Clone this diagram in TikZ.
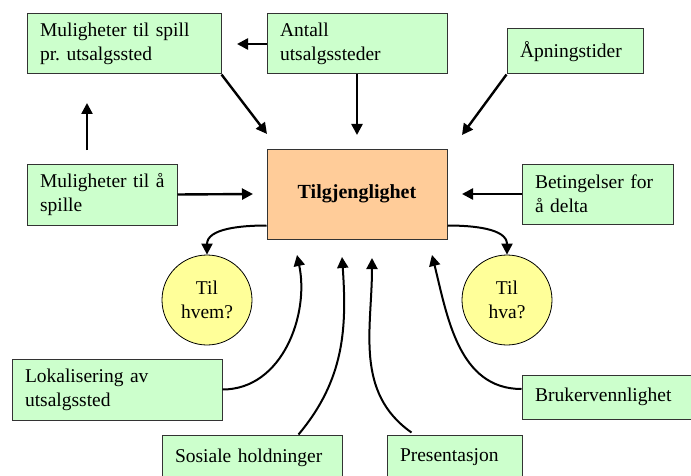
\documentclass[tikz,border=0pt]{standalone}
\usepackage{fontspec}
\setmainfont{Liberation Serif}
\usetikzlibrary{arrows.meta,calc}
\definecolor{boxgreen}{HTML}{CCFFCC}
\definecolor{boxorange}{HTML}{FFCC99}
\definecolor{circyellow}{HTML}{FFFF99}
\definecolor{edgegray}{HTML}{333333}
\frenchspacing
\newcommand{\myline}[1]{\mbox{#1}}
\begin{document}
\begin{tikzpicture}[x=1pt,y=1pt,
  every node/.style={font=\fontsize{19.5}{24}\selectfont\frenchspacing},
  gbox/.style={draw=edgegray,line width=1pt,fill=boxgreen,align=left,inner xsep=13pt,inner ysep=2pt},
  cbox/.style={draw=edgegray,line width=1pt,fill=boxorange,minimum width=180pt,minimum height=90pt,font=\fontsize{20}{24}\selectfont\bfseries},
  ycirc/.style={draw=black,line width=0.8pt,fill=circyellow,circle,minimum size=90pt,inner sep=0pt,align=center},
  arr/.style={line width=2.4pt,-{Triangle[length=11pt,width=11pt]}},
  carr/.style={line width=2pt,-{Triangle[length=11pt,width=11pt]}}]
\useasboundingbox (0,0) rectangle (691,475);
\clip (0,0) rectangle (691,475);
\node[gbox,text width=168pt,minimum height=60pt] (mspill) at (124,431) {\myline{Muligheter til spill}\\\myline{pr. utsalgssted}};
\node[gbox,text width=154pt,minimum height=60pt] (antall) at (357,431) {\myline{Antall}\\\myline{utsalgssteder}};
\node[gbox,text width=110pt,minimum height=45pt] (apning) at (575,423.5) {\myline{Åpningstider}};
\node[gbox,text width=124pt,minimum height=61pt] (mspille) at (102,280.5) {\myline{Muligheter til å}\\\myline{spille}};
\node[gbox,text width=125pt,minimum height=60pt] (beting) at (597.5,281) {\myline{Betingelser for}\\\myline{å delta}};
\node[cbox] (tilg) at (357,281) {Tilgjenglighet};
\node[ycirc] (hvem) at (207,175) {Til\\hvem?};
\node[ycirc] (hva) at (507,175) {Til\\hva?};
\node[gbox,text width=184pt,minimum height=61pt] (lokal) at (117,85.5) {\myline{Lokalisering av}\\\myline{utsalgssted}};
\node[gbox,text width=154pt,minimum height=45pt] (sosial) at (252,17.5) {\myline{Sosiale holdninger}};
\node[gbox,text width=109pt,minimum height=45pt] (present) at (454.5,17.5) {\myline{Presentasjon}};
\node[gbox,text width=152pt,minimum height=44pt] (bruker) at (611,78) {\myline{Brukervennlighet}};
% free arrow ends
\coordinate (tA) at (237,431);
\coordinate (tB) at (357,340);
\coordinate (tC) at (462,340);
\coordinate (tD) at (267,341);
\coordinate (u1) at (87,325);
\coordinate (u2) at (87,372);
\coordinate (tE) at (253,281);
\coordinate (tF) at (462,281);
\coordinate (tL) at (297,220);
\coordinate (tS) at (342,218);
\coordinate (tP) at (372,217);
\coordinate (tR) at (432,220);
% straight arrows
\draw[arr] (antall.west) -- (tA);
\draw[arr] (antall.south) -- (tB);
\draw[arr] (apning.south west) -- (tC);
\draw[arr] (mspill.south east) -- (tD);
\draw[arr] (u1) -- (u2);
\draw[arr] (mspille.east) -- (tE);
\draw[arr] (beting.west) -- (tF);
% curved arrows to circles
\draw[carr] ($(tilg.south west)+(0,14)$) to[out=180,in=90] (hvem.north);
\draw[carr] ($(tilg.south east)+(0,14)$) to[out=0,in=90] (hva.north);
% curved arrows from bottom boxes
\draw[carr] (lokal.east) to[out=0,in=-78] (tL);
\draw[carr] ($(sosial.north east)+(-44,0)$) to[out=50,in=-86] (tS);
\draw[carr] ($(present.north west)+(25,2)$) to[out=145,in=-90] (tP);
\draw[carr] ($(bruker.west)+(0,8)$) to[out=180,in=-76] (tR);
\end{tikzpicture}
\end{document}
